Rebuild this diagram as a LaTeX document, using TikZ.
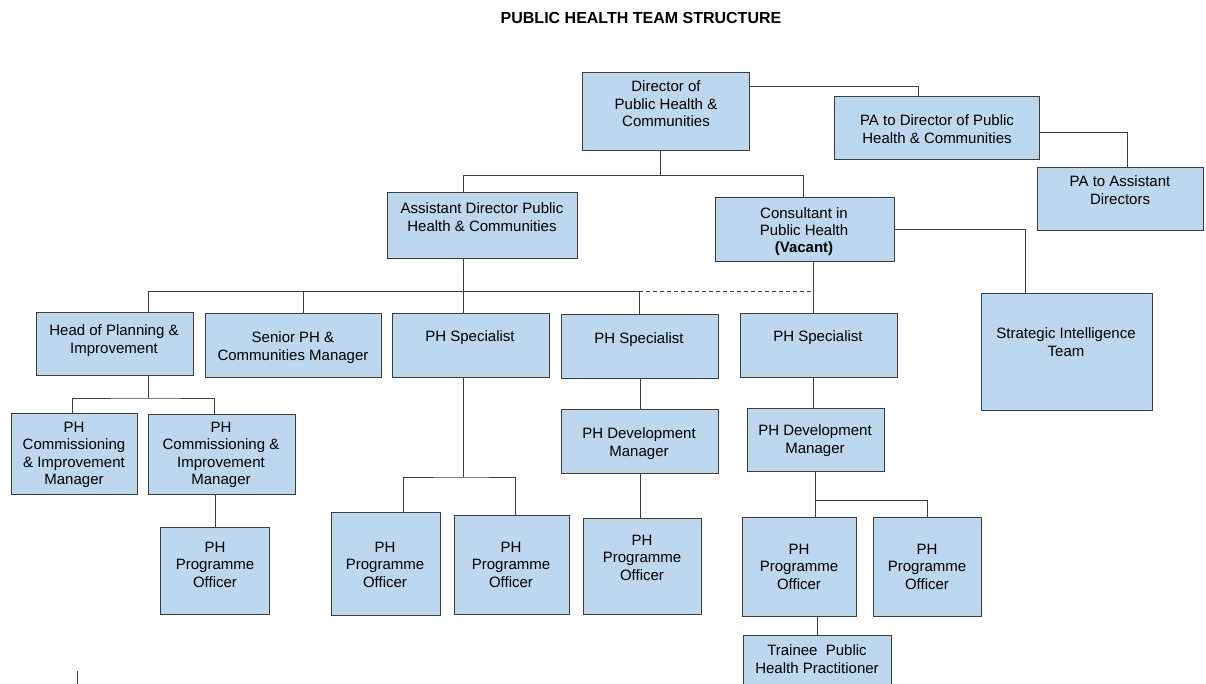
\documentclass[tikz,border=0pt]{standalone}
\usepackage{fontspec}
\setmainfont{Liberation Sans}
\usetikzlibrary{positioning}
\definecolor{boxblue}{RGB}{189,215,238}
\definecolor{edgegray}{RGB}{60,60,60}

\begin{document}
\begin{tikzpicture}[
    x=1pt, y=-1pt,
    orgbox/.style={rectangle, draw=edgegray, fill=boxblue, line width=1.2pt, anchor=north west, inner sep=0pt},
    txt/.style={anchor=north, align=center, inner sep=0pt, font=\fontsize{15}{17.5}\selectfont},
    link/.style={draw=edgegray, line width=1pt}
]
    \useasboundingbox (0,0) rectangle (1206,684);

    \node[font=\bfseries\fontsize{16}{18}\selectfont] (title) at (641,17.5) {PUBLIC HEALTH TEAM STRUCTURE};

    % top level
    \node[orgbox, minimum width=167pt, minimum height=78pt] (dir) at (582,72) {};
    \node[txt] (dirT) at (666,80.5) {Director of\\Public Health \&\\Communities};
    \node[orgbox, minimum width=205pt, minimum height=63pt] (pad) at (834,96) {};
    \node[txt] (padT) at (937,114.5) {PA to Director of Public\\Health \& Communities};
    \node[orgbox, minimum width=166pt, minimum height=63pt] (paa) at (1037,167) {};
    \node[txt] (paaT) at (1120,175.5) {PA to Assistant\\Directors};

    % second level
    \node[orgbox, minimum width=190pt, minimum height=66pt] (ad) at (387,192) {};
    \node[txt] (adT) at (482,202.5) {Assistant Director Public\\Health \& Communities};
    \node[orgbox, minimum width=179pt, minimum height=64pt] (cons) at (715,197) {};
    \node[txt, font=\fontsize{15}{17}\selectfont] (consT) at (804,207.5) {Consultant in\\Public Health\\\textbf{(Vacant)}};
    \node[orgbox, minimum width=171pt, minimum height=117pt] (strat) at (981,293) {};
    \node[txt] (stratT) at (1066,327.5) {Strategic Intelligence\\Team};

    % third level
    \node[orgbox, minimum width=157pt, minimum height=63pt] (head) at (36,312) {};
    \node[txt] (headT) at (114,324.5) {Head of Planning \&\\Improvement};
    \node[orgbox, minimum width=176pt, minimum height=64pt] (senior) at (205,313) {};
    \node[txt] (seniorT) at (293,331.5) {Senior PH \&\\Communities Manager};
    \node[orgbox, minimum width=157pt, minimum height=64pt] (spec1) at (392,313) {};
    \node[txt] (spec1T) at (470,330.5) {PH Specialist};
    \node[orgbox, minimum width=157pt, minimum height=64pt] (spec2) at (561,314) {};
    \node[txt] (spec2T) at (639,332.5) {PH Specialist};
    \node[orgbox, minimum width=157pt, minimum height=64pt] (spec3) at (740,313) {};
    \node[txt] (spec3T) at (818,330.5) {PH Specialist};

    % fourth level
    \node[orgbox, minimum width=126pt, minimum height=81pt] (comm1) at (11,413) {};
    \node[txt] (comm1T) at (74,421.5) {PH\\Commissioning\\\& Improvement\\Manager};
    \node[orgbox, minimum width=147pt, minimum height=80pt] (comm2) at (148,414) {};
    \node[txt] (comm2T) at (221,421.5) {PH\\Commissioning \&\\Improvement\\Manager};
    \node[orgbox, minimum width=157pt, minimum height=64pt] (dev1) at (561,409) {};
    \node[txt] (dev1T) at (639,427.5) {PH Development\\Manager};
    \node[orgbox, minimum width=137pt, minimum height=63pt] (dev2) at (747,408) {};
    \node[txt] (dev2T) at (815,424.5) {PH Development\\Manager};

    % programme officers
    \node[orgbox, minimum width=109pt, minimum height=87pt] (poA) at (160,527) {};
    \node[txt] (poAT) at (215,541.5) {PH\\Programme\\Officer};
    \node[orgbox, minimum width=109pt, minimum height=103pt] (poB) at (331,512) {};
    \node[txt] (poBT) at (385,541.5) {PH\\Programme\\Officer};
    \node[orgbox, minimum width=115pt, minimum height=99pt] (poC) at (454,515) {};
    \node[txt] (poCT) at (511,541.5) {PH\\Programme\\Officer};
    \node[orgbox, minimum width=118pt, minimum height=96pt] (poD) at (583,518) {};
    \node[txt] (poDT) at (642,534.5) {PH\\Programme\\Officer};
    \node[orgbox, minimum width=114pt, minimum height=99pt] (poE) at (742,517) {};
    \node[txt] (poET) at (799,543.5) {PH\\Programme\\Officer};
    \node[orgbox, minimum width=108pt, minimum height=99pt] (poF) at (873,517) {};
    \node[txt] (poFT) at (927,543.5) {PH\\Programme\\Officer};
    \node[orgbox, minimum width=148pt, minimum height=65pt] (trainee) at (743,635) {};
    \node[txt] (traineeT) at (817,644.5) {Trainee\ \ Public\\Health Practitioner};

    % junctions
    \coordinate (dirbus) at (660,176);
    \coordinate (busW) at (148,292);
    \coordinate (adtrunk) at (463,292);
    \coordinate (busE) at (639,292);
    \coordinate (consdrop) at (813,292);
    \coordinate (headbus) at (148,398);
    \coordinate (s1bus) at (463,477);
    \coordinate (d2bus) at (815,500);

    % lines
    \draw[link] (dir.south -| dirbus) -- (dirbus) -| ([xshift=-19pt]ad.north);
    \draw[link] (dirbus) -| ([xshift=-1.5pt]cons.north);
    \draw[link] ([yshift=25pt]dir.east) -| ([xshift=-18.5pt]pad.north);
    \draw[link] ([yshift=-4.5pt]pad.east) -| ([xshift=7pt]paa.north);
    \draw[link] (cons.east) -| ([xshift=-41.5pt]strat.north);

    \draw[link] (ad.south -| adtrunk) -- (spec1.north -| adtrunk);
    \draw[link] (busW) -- (busE);
    \draw[link] (busW) -- (head.north -| busW);
    \draw[link] ([xshift=10pt]senior.north) -- ([xshift=10pt]senior.north |- busW);
    \draw[link] (busE) -- (spec2.north -| busE);
    \draw[link, dash pattern=on 4pt off 3pt] (busE) -- (consdrop);
    \draw[link] (cons.south -| consdrop) -- (spec3.north -| consdrop);

    \draw[link] (head.south -| headbus) -- (headbus);
    \draw[link] ([xshift=-2pt]comm1.north) |- (headbus) -| ([xshift=-7.5pt]comm2.north);
    \draw[link] (poA.north) -- (poA.north |- comm2.south);

    \draw[link] (spec1.south -| s1bus) -- (s1bus);
    \draw[link] ([xshift=17.5pt]poB.north) |- (s1bus) -| ([xshift=3.5pt]poC.north);

    \draw[link] (spec2.south) -- (dev1.north);
    \draw[link] (dev1.south) -- (poD.north -| dev1.south);

    \draw[link] (spec3.south -| consdrop) -- (dev2.north -| consdrop);
    \draw[link] (dev2.south -| d2bus) -- (poE.north -| d2bus);
    \draw[link] (d2bus) -| (poF.north);
    \draw[link] (poE.south -| trainee.north) -- (trainee.north);

    \draw[link, line width=0.8pt] (77,671) -- (77,684);
\end{tikzpicture}
\end{document}
